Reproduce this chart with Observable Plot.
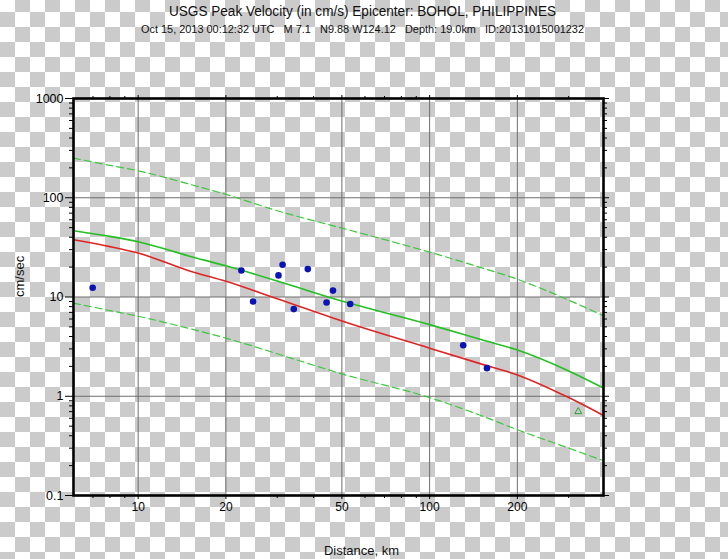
<!DOCTYPE html>
<html>
<head>
<meta charset="utf-8">
<script src="https://cdn.jsdelivr.net/npm/d3@7"></script>
<script src="https://cdn.jsdelivr.net/npm/@observablehq/plot@0.6"></script>
<style>
  html, body { margin: 0; padding: 0; }
  body {
    width: 728px; height: 559px; overflow: hidden;
    background: repeating-conic-gradient(#fff 0% 25%, #cbcbcb 0% 50%) 0 12px / 30px 30px;
  }
</style>
</head>
<body>
<div id="chart"></div>
<script>
// ---- data ----
const titleText = "USGS Peak Velocity (in cm/s) Epicenter: BOHOL, PHILIPPINES";
const subtitleText = "Oct 15, 2013 00:12:32 UTC   M 7.1   N9.88 W124.12   Depth: 19.0km   ID:20131015001232";
const xLabel = "Distance, km";
const yLabel = "cm/sec";

const curveDist   = [6, 8, 10, 15, 20, 30, 50, 100, 150, 200, 300, 395];
const greenMedian = [46.5, 40.8, 36.0, 25.8, 20.6, 14.5, 9.1, 5.27, 3.73, 2.92, 1.80, 1.21];
const redMedian   = [37.7, 32.2, 27.7, 18.3, 14.4, 9.6, 5.72, 3.05, 2.12, 1.64, 0.97, 0.64];
const greenUpper  = [251, 212, 187, 137, 108, 74, 49.5, 28.3, 19.8, 15.1, 9.3, 6.47];
const greenLower  = [8.68, 7.3, 6.4, 4.8, 3.85, 2.68, 1.68, 0.97, 0.64, 0.46, 0.30, 0.224];

const stationDist = [6.98, 22.6, 24.8, 30.3, 31.3, 34.2, 38.2, 44.3, 46.6, 53.4, 130.4, 157.3];
const stationPgv  = [12.4, 18.5, 9.0, 16.5, 21.1, 7.55, 19.1, 8.8, 11.6, 8.5, 3.27, 1.92];
const triDist = [323.6];
const triPgv  = [0.70];

const xTicks = [10, 20, 50, 100, 200];
const xTickLabels = ["10", "20", "50", "100", "200"];
const xMinorTicks = [7, 8, 9, 30, 40, 60, 70, 80, 90, 300];
const yTicks = [0.1, 1, 10, 100, 1000];
const yTickLabels = ["0.1", "1", "10", "100", "1000"];
const yGrid = [1, 10, 100];
const yMinorTicks = [0.2,0.3,0.4,0.5,0.6,0.7,0.8,0.9, 2,3,4,5,6,7,8,9, 20,30,40,50,60,70,80,90, 200,300,400,500,600,700,800,900];

// ---- tables ----
const curves = curveDist.map((d, i) => ({d, green: greenMedian[i], red: redMedian[i], up: greenUpper[i], lo: greenLower[i]}));
const stations = stationDist.map((d, i) => ({d, v: stationPgv[i]}));
const tris = triDist.map((d, i) => ({d, v: triPgv[i]}));

const chart = Plot.plot({
  width: 728,
  height: 559,
  marginLeft: 73,
  marginRight: 125,
  marginTop: 98,
  marginBottom: 64,
  style: {background: "transparent", fontFamily: "'Liberation Sans', Arial, sans-serif", fontSize: "12px", color: "black"},
  x: {type: "log", domain: [6, 395]},
  y: {type: "log", domain: [0.1, 1000]},
  marks: [
    Plot.gridX(xTicks, {stroke: "#6e6e6e", strokeOpacity: 1, strokeWidth: 1}),
    Plot.gridY(yGrid, {stroke: "#6e6e6e", strokeOpacity: 1, strokeWidth: 1}),
    Plot.line(curves, {x: "d", y: "up", curve: "monotone-x", stroke: "#3cc83c", strokeWidth: 1.2, strokeDasharray: "7,4"}),
    Plot.line(curves, {x: "d", y: "lo", curve: "monotone-x", stroke: "#3cc83c", strokeWidth: 1.2, strokeDasharray: "7,4"}),
    Plot.line(curves, {x: "d", y: "green", curve: "monotone-x", stroke: "#22c022", strokeWidth: 1.6}),
    Plot.line(curves, {x: "d", y: "red", curve: "monotone-x", stroke: "#e02424", strokeWidth: 1.6}),
    Plot.dot(stations, {x: "d", y: "v", r: 3.3, fill: "#0a14b4", stroke: "none"}),
    Plot.dot(tris, {x: "d", y: "v", symbol: "triangle", r: 2.6, stroke: "#2ca02c", strokeWidth: 1, fill: "none"}),
    // axes
    Plot.axisX({ticks: xTicks, tickSize: 4, tickPadding: 3, tickFormat: d => xTickLabels[xTicks.indexOf(d)], label: null, fontSize: 12}),
    Plot.axisX({ticks: xMinorTicks, tickSize: 3, tickFormat: () => "", label: null}),
    Plot.axisX({anchor: "top", ticks: xTicks, tickSize: 4, tickFormat: () => "", label: null}),
    Plot.axisX({anchor: "top", ticks: xMinorTicks, tickSize: 3, tickFormat: () => "", label: null}),
    Plot.axisY({ticks: yTicks, tickSize: 8, tickPadding: 2, tickFormat: d => yTickLabels[yTicks.indexOf(d)], label: null, fontSize: 12.5}),
    Plot.axisY({ticks: yMinorTicks, tickSize: 4, tickFormat: () => "", label: null}),
    Plot.axisY({anchor: "right", ticks: yTicks, tickSize: 5, tickFormat: () => "", label: null}),
    Plot.axisY({anchor: "right", ticks: yMinorTicks, tickSize: 3, tickFormat: () => "", label: null}),
    Plot.frame({stroke: "black", strokeWidth: 2.6}),
    // texts
    Plot.text([titleText], {frameAnchor: "top", dx: 24, dy: -87, lineAnchor: "middle", fontSize: 14, fill: "#111"}),
    Plot.text([subtitleText], {frameAnchor: "top", dx: 24, dy: -69, lineAnchor: "middle", fontSize: 10, fill: "#111"}),
    Plot.text([xLabel], {frameAnchor: "bottom", dx: 23, dy: 55, lineAnchor: "middle", fontSize: 13, fill: "#111"}),
    Plot.text([yLabel], {frameAnchor: "left", dx: -54, rotate: -90, lineAnchor: "middle", fontSize: 13, fill: "#111"})
  ]
});

// stretch title lines to the reference widths
d3.select(chart).selectAll("text").each(function() {
  const t = this.textContent;
  if (t === titleText) { this.setAttribute("textLength", 387); this.setAttribute("lengthAdjust", "spacingAndGlyphs"); }
  if (t === subtitleText) { this.setAttribute("textLength", 443); this.setAttribute("lengthAdjust", "spacingAndGlyphs"); }
});

document.getElementById("chart").appendChild(chart);
</script>
</body>
</html>
